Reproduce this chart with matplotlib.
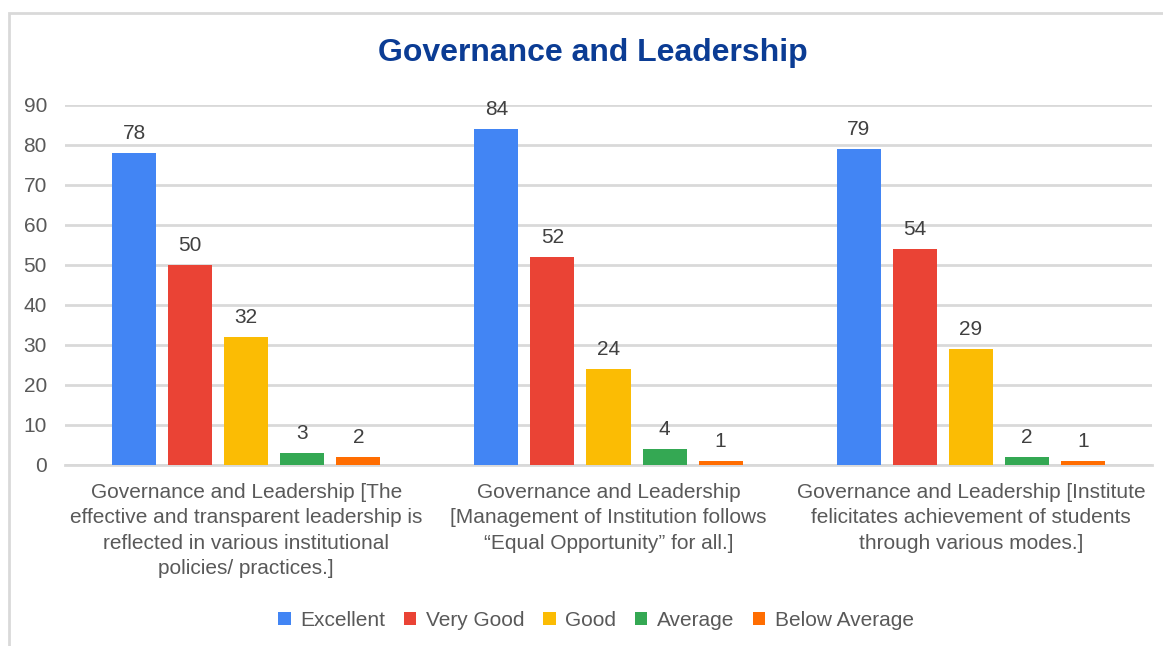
"""Governance and Leadership feedback bar chart."""

import matplotlib.pyplot as plt
import numpy as np
from matplotlib.patches import Rectangle

plt.rcParams['font.family'] = ['Liberation Sans', 'DejaVu Sans']

categories = [
    "Governance and Leadership [The\neffective and transparent leadership is\nreflected in various institutional\npolicies/ practices.]",
    "Governance and Leadership\n[Management of Institution follows\n\u201cEqual Opportunity\u201d for all.]",
    "Governance and Leadership [Institute\nfelicitates achievement of students\nthrough various modes.]",
]
series_names = ["Excellent", "Very Good", "Good", "Average", "Below Average"]
excellent = [78, 84, 79]
very_good = [50, 52, 54]
good = [32, 24, 29]
average = [3, 4, 2]
below_average = [2, 1, 1]
colors = ['#4285F4', '#EA4335', '#FBBC04', '#34A853', '#FF6D01']

text_color = '#595959'
grid_color = '#D9D9D9'
fs = 15

fig = plt.figure(figsize=(11.63, 6.46), dpi=100)
ax = fig.add_axes([65 / 1163, 1 - 465 / 646, (1152 - 65) / 1163, 360 / 646])

x = np.arange(len(categories))
step = 56 / 362
width = 44 / 362
all_series = [excellent, very_good, good, average, below_average]
for i, (vals, name, col) in enumerate(zip(all_series, series_names, colors)):
    pos = x + (i - 2) * step
    bars = ax.bar(pos, vals, width, color=col, label=name, zorder=3)
    for b, v in zip(bars, vals):
        ax.text(b.get_x() + b.get_width() / 2, v + 2.6, str(v), ha='center', va='bottom',
                fontsize=fs, color='#404040')

ax.set_xlim(-0.5, 2.5)
ax.set_ylim(0, 90)
ax.set_yticks(range(0, 91, 10))
ax.yaxis.grid(True, color=grid_color, linewidth=2, zorder=0)
ax.set_axisbelow(True)
for s in ['top', 'right', 'left']:
    ax.spines[s].set_visible(False)
ax.spines['bottom'].set_color(grid_color)
ax.spines['bottom'].set_linewidth(2)
ax.tick_params(axis='both', length=0, labelsize=fs, labelcolor=text_color)
ax.tick_params(axis='y', pad=13)
ax.tick_params(axis='x', pad=13)
ax.set_xticks(x)
ax.set_xticklabels(categories, fontsize=fs, color=text_color, linespacing=1.42)

fig.text(593 / 1163, 1 - 53 / 646, "Governance and Leadership", ha='center', va='center',
         fontsize=23, fontweight='bold', color='#0B3C94')

fig.legend(loc='center', bbox_to_anchor=(596 / 1163, 1 - 620 / 646), ncol=5, frameon=False,
           fontsize=fs, labelcolor=text_color, handlelength=0.6, handleheight=0.6,
           handletextpad=0.45, columnspacing=0.9)

fig.patches.append(Rectangle((9 / 1163, -0.1), 1.2, 1 - 13 / 646 + 0.1, transform=fig.transFigure,
                             fill=False, edgecolor='#D9D9D9', linewidth=2))

fig.savefig('out.png', dpi=100)
